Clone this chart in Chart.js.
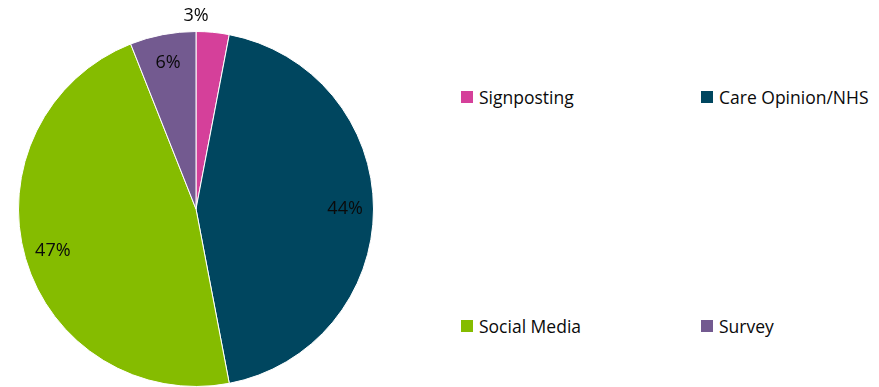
<!DOCTYPE html>
<html>
<head>
<meta charset="utf-8">
<script src="https://cdn.jsdelivr.net/npm/chart.js@4/dist/chart.umd.min.js"></script>
<style>
  html, body { margin: 0; padding: 0; background: #fff; }
  body { width: 879px; height: 387px; position: relative; overflow: hidden; font-family: 'Open Sans', sans-serif; }
  #pieBox { position: absolute; left: 0; top: 0; width: 392px; height: 387px; }
  .legend-item { position: absolute; display: flex; align-items: center; font-size: 17.5px; color: #0a0a0a; white-space: nowrap; }
  .legend-item span.swatch { width: 12px; height: 12px; margin-right: 6px; display: inline-block; }
</style>
</head>
<body>
<div id="pieBox"><canvas id="myChart"></canvas></div>
<div id="legend"></div>
<script>
const categories = ['Signposting', 'Care Opinion/NHS', 'Social Media', 'Survey'];
const shares = [3, 44, 47, 6];
const colours = ['#D5409A', '#00465F', '#85BC00', '#735A90'];

// legend sits in a 2 x 2 grid to the right of the pie
const legendSpots = [[461, 97], [701, 97], [461, 326], [701, 326]];
const legend = document.getElementById('legend');
categories.forEach((name, i) => {
  const item = document.createElement('div');
  item.className = 'legend-item';
  item.style.left = legendSpots[i][0] + 'px';
  item.style.top = (legendSpots[i][1] - 12) + 'px';
  item.innerHTML = '<span class="swatch" style="background:' + colours[i] + '"></span>' + name;
  legend.appendChild(item);
});

// percentage labels: inside the slice, or just above the pie for thin slices
const sliceLabels = {
  id: 'sliceLabels',
  afterDatasetsDraw(chart) {
    const ctx = chart.ctx;
    const meta = chart.getDatasetMeta(0);
    ctx.save();
    ctx.font = '18px "Open Sans"';
    ctx.fillStyle = '#0a0a0a';
    ctx.textAlign = 'center';
    ctx.textBaseline = 'middle';
    meta.data.forEach((arc, i) => {
      const mid = (arc.startAngle + arc.endAngle) / 2;
      const r = arc.outerRadius;
      let x, y;
      if (shares[i] < 5) {
        x = arc.x + r * Math.cos(arc.startAngle);
        y = arc.y - r - 16;
      } else {
        x = arc.x + r * 0.84 * Math.cos(mid);
        y = arc.y + r * 0.84 * Math.sin(mid);
      }
      ctx.fillText(shares[i] + '%', x, y);
    });
    ctx.restore();
  }
};

new Chart(document.getElementById('myChart'), {
  type: 'pie',
  data: {
    labels: categories,
    datasets: [{
      data: shares,
      backgroundColor: colours,
      borderColor: '#ffffff',
      borderWidth: 1
    }]
  },
  options: {
    responsive: true,
    maintainAspectRatio: false,
    animation: false,
    layout: { padding: { top: 31, left: 18, right: 18, bottom: 0 } },
    plugins: {
      legend: { display: false },
      tooltip: { enabled: false }
    }
  },
  plugins: [sliceLabels]
});
</script>
</body>
</html>
